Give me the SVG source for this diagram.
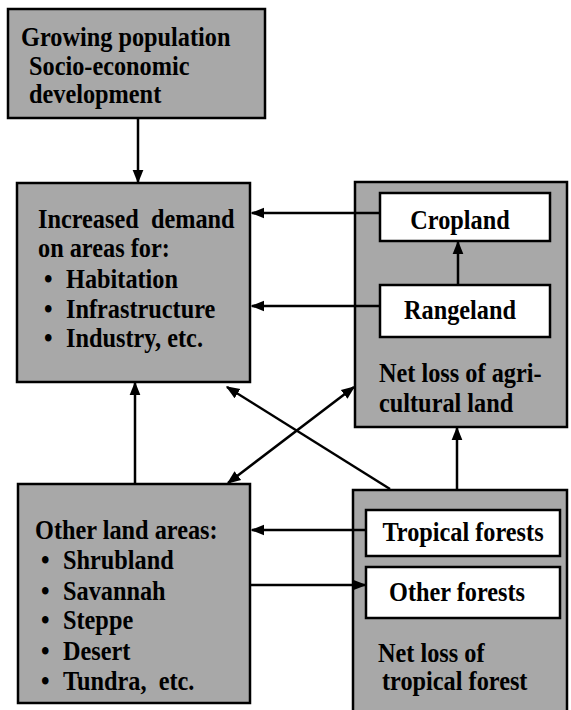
<svg xmlns="http://www.w3.org/2000/svg" width="571" height="710" viewBox="0 0 571 710">
<defs>
<marker id="ah" viewBox="0 0 10 10" refX="9" refY="5" markerWidth="5.5" markerHeight="5.5" orient="auto-start-reverse" markerUnits="strokeWidth">
<path d="M0,1 L10,5 L0,9 Z" fill="#000"/>
</marker>
<style>
.box{fill:#a8a8a8;stroke:#000;stroke-width:2.5}
.wbox{fill:#fff;stroke:#000;stroke-width:2.5}
.t{font-family:"Liberation Serif","Times New Roman",serif;font-weight:bold;font-size:27px;fill:#000}
.m{text-anchor:middle}
.c{stroke:#000;stroke-width:2.5;fill:none}
</style>
</defs>
<rect width="571" height="710" fill="#fff"/>
<g id="growing">
<rect class="box" x="8" y="9" width="257" height="109"/>
<text class="t" transform="translate(21,46) scale(0.9,1)">Growing population</text>
<text class="t" transform="translate(29,75) scale(0.9,1)">Socio-economic</text>
<text class="t" transform="translate(29,103) scale(0.9,1)">development</text>
</g>
<g id="demand">
<rect class="box" x="17" y="183" width="233" height="199"/>
<text class="t" transform="translate(38,228) scale(0.9,1)">Increased&#160; demand</text>
<text class="t" transform="translate(38,257) scale(0.9,1)">on areas for:</text>
<text class="t" transform="translate(44,288) scale(0.9,1)">•</text><text class="t" transform="translate(66,288) scale(0.9,1)">Habitation</text>
<text class="t" transform="translate(44,318) scale(0.9,1)">•</text><text class="t" transform="translate(66,318) scale(0.9,1)">Infrastructure</text>
<text class="t" transform="translate(44,347) scale(0.9,1)">•</text><text class="t" transform="translate(66,347) scale(0.9,1)">Industry, etc.</text>
</g>
<g id="agri">
<rect class="box" x="355" y="182" width="212" height="245"/>
<text class="t" transform="translate(379,382) scale(0.9,1)">Net loss of agri-</text>
<text class="t" transform="translate(379,412) scale(0.9,1)">cultural land</text>
</g>
<g id="cropland">
<rect class="wbox" x="380" y="193" width="170" height="48"/>
<text class="t m" transform="translate(460,229) scale(0.9,1)">Cropland</text>
</g>
<g id="rangeland">
<rect class="wbox" x="380" y="285" width="170" height="52"/>
<text class="t m" transform="translate(460,319) scale(0.9,1)">Rangeland</text>
</g>
<g id="otherland">
<rect class="box" x="18" y="484" width="232" height="219"/>
<text class="t" transform="translate(35,539) scale(0.9,1)">Other land areas:</text>
<text class="t" transform="translate(41,569) scale(0.9,1)">•</text><text class="t" transform="translate(63,569) scale(0.9,1)">Shrubland</text>
<text class="t" transform="translate(41,600) scale(0.9,1)">•</text><text class="t" transform="translate(63,600) scale(0.9,1)">Savannah</text>
<text class="t" transform="translate(41,629) scale(0.9,1)">•</text><text class="t" transform="translate(63,629) scale(0.9,1)">Steppe</text>
<text class="t" transform="translate(41,660) scale(0.9,1)">•</text><text class="t" transform="translate(63,660) scale(0.9,1)">Desert</text>
<text class="t" transform="translate(41,690) scale(0.9,1)">•</text><text class="t" transform="translate(63,690) scale(0.9,1)">Tundra,&#160; etc.</text>
</g>
<g id="tropical">
<rect class="box" x="353" y="490" width="214" height="230"/>
<text class="t" transform="translate(378,662) scale(0.9,1)">Net loss of</text>
<text class="t" transform="translate(382,690) scale(0.9,1)">tropical forest</text>
</g>
<g id="tropforests">
<rect class="wbox" x="366" y="510" width="194" height="46"/>
<text class="t m" transform="translate(463,541) scale(0.9,1)">Tropical forests</text>
</g>
<g id="otherforests">
<rect class="wbox" x="366" y="567" width="194" height="51"/>
<text class="t m" transform="translate(457,601) scale(0.9,1)">Other forests</text>
</g>
<g id="connectors">
<line class="c" x1="138" y1="118" x2="138" y2="182" marker-end="url(#ah)"/>
<line class="c" x1="380" y1="213" x2="252" y2="213" marker-end="url(#ah)"/>
<line class="c" x1="380" y1="306" x2="252" y2="306" marker-end="url(#ah)"/>
<line class="c" x1="458" y1="285" x2="458" y2="242" marker-end="url(#ah)"/>
<line class="c" x1="135" y1="484" x2="135" y2="383" marker-end="url(#ah)"/>
<line class="c" x1="457" y1="490" x2="457" y2="428" marker-end="url(#ah)"/>
<line class="c" x1="366" y1="530" x2="252" y2="530" marker-end="url(#ah)"/>
<line class="c" x1="250" y1="585" x2="365" y2="585" marker-end="url(#ah)"/>
<line class="c" x1="390" y1="489" x2="227" y2="387" marker-end="url(#ah)"/>
<line class="c" x1="228" y1="483" x2="354" y2="387" marker-start="url(#ah)" marker-end="url(#ah)"/>
</g>
</svg>
